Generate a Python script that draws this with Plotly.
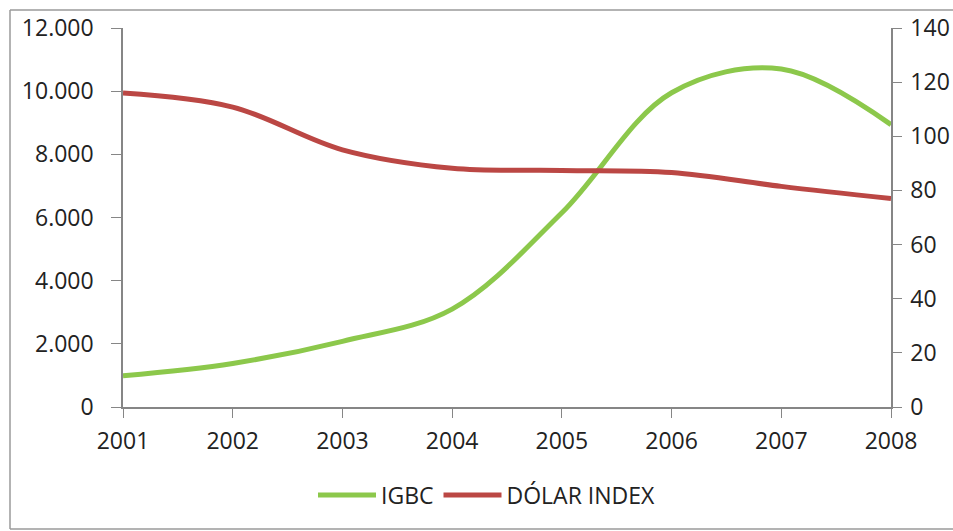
import plotly.graph_objects as go

years = [2001, 2002, 2003, 2004, 2005, 2006, 2007, 2008]
igbc = [990, 1380, 2080, 3100, 6150, 9950, 10700, 8940]
dolar_index = [116.0, 110.8, 95.0, 88.2, 87.4, 86.6, 81.5, 77.0]

left_ticks = [0, 2000, 4000, 6000, 8000, 10000, 12000]
right_ticks = [0, 20, 40, 60, 80, 100, 120, 140]

GREEN = "#8CC84B"
RED = "#BB4744"
AXIS = "#868686"
FRAME = "#9A9A9A"
FONT = "Open Sans"
FS = 23

L, R, T, B = 123, 891, 28, 407
W, H = 953, 531
pw, ph = R - L, B - T


def px_x(p):
    return (p - L) / pw


def px_y(p):
    return (B - p) / ph


frame = [
    (10, 10, 960, 10),
    (10, 10, 10, 529),
    (10, 529, 960, 529),
]

fig = go.Figure()
fig.add_trace(go.Scatter(x=years, y=igbc, name="IGBC", mode="lines",
                         line=dict(color=GREEN, width=5, shape="spline", smoothing=1.0),
                         yaxis="y"))
fig.add_trace(go.Scatter(x=years, y=dolar_index, name="DÓLAR INDEX", mode="lines",
                         line=dict(color=RED, width=5, shape="spline", smoothing=1.0),
                         yaxis="y2"))

fig.update_layout(
    width=W, height=H, autosize=False,
    margin=dict(l=L, r=W - R, t=T, b=H - B, autoexpand=False),
    paper_bgcolor="white", plot_bgcolor="white",
    separators=",.",
    font=dict(family=FONT, size=FS, color="#222222"),
    showlegend=True,
    legend=dict(orientation="h", x=px_x(487), xanchor="center", y=px_y(495),
                yanchor="middle", font=dict(size=FS), itemwidth=58, tracegroupgap=0),
    xaxis=dict(range=[2001, 2008], tickvals=years, ticktext=[str(y) for y in years],
               showline=True, linecolor=AXIS, linewidth=1.5, ticks="outside",
               ticklen=9, tickcolor=AXIS, showgrid=False, zeroline=False,
               ticklabelstandoff=4, automargin=False),
    yaxis=dict(range=[0, 12000], tickvals=left_ticks, tickformat=",d",
               showline=True, linecolor=AXIS, linewidth=1.5, ticks="outside",
               ticklen=10, tickcolor=AXIS, showgrid=False, zeroline=False,
               ticklabelstandoff=13, automargin=False),
    yaxis2=dict(range=[0, 140], tickvals=right_ticks, overlaying="y", side="right",
                showline=True, linecolor=AXIS, linewidth=1.5, ticks="outside",
                ticklen=9, tickcolor=AXIS, showgrid=False, zeroline=False,
                ticklabelstandoff=4, automargin=False),
    shapes=[dict(type="line", xref="paper", yref="paper",
                 x0=px_x(a), y0=px_y(b), x1=px_x(c), y1=px_y(d),
                 line=dict(color=FRAME, width=1.5), layer="below")
            for a, b, c, d in frame],
)

fig.write_html("out.html",
               config={"displayModeBar": False, "responsive": False},
               post_script="document.body.style.margin='0';document.body.style.overflow='hidden';")
